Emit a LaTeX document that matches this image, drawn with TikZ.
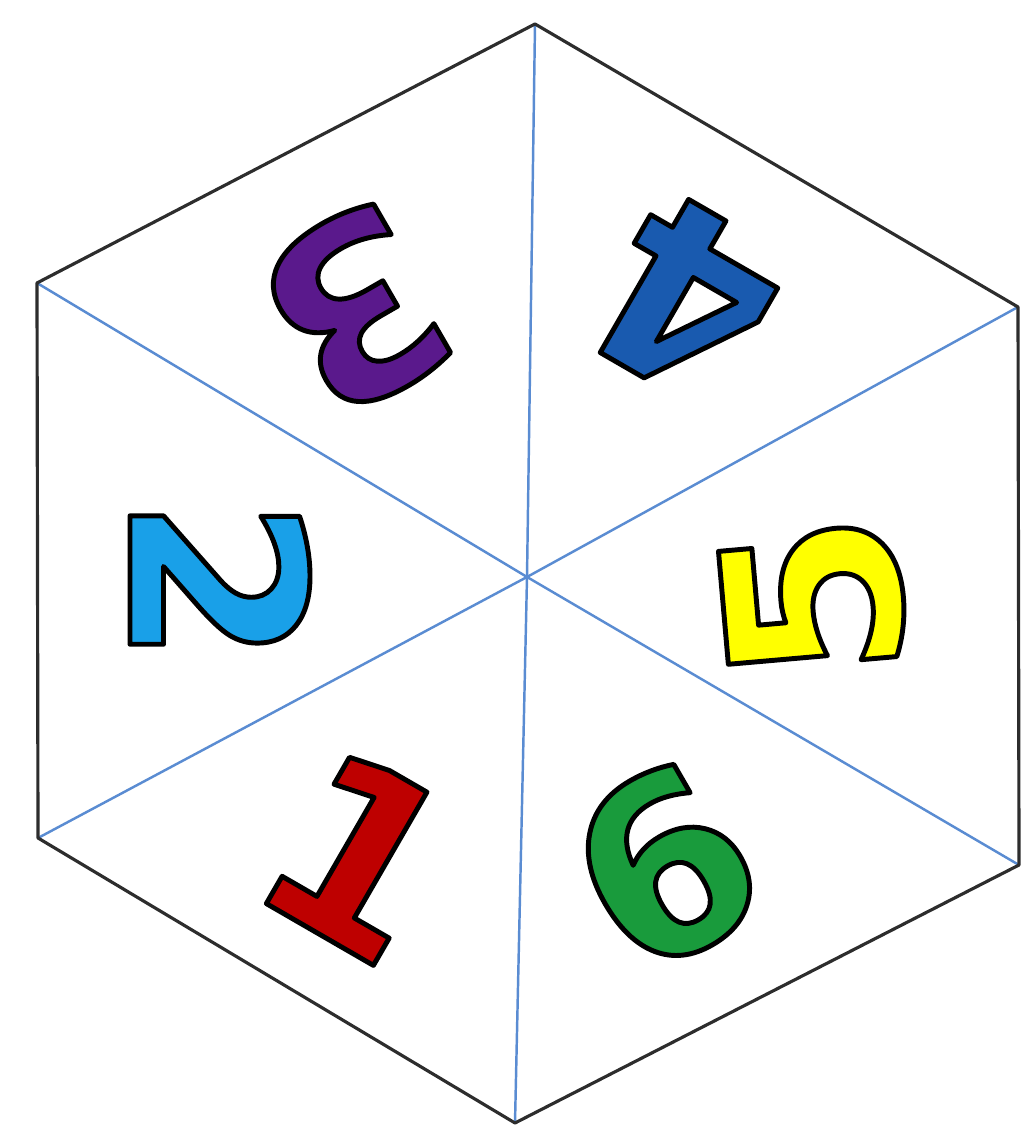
\documentclass[tikz,border=0pt]{standalone}
\usepackage{fontspec}
\newfontfamily\numfont{DejaVu Sans}
\definecolor{spoke}{RGB}{90,140,210}
\definecolor{edge}{RGB}{45,45,45}
\definecolor{cthree}{RGB}{90,25,140}
\definecolor{cfour}{RGB}{25,90,175}
\definecolor{ctwo}{RGB}{25,160,232}
\definecolor{cfive}{RGB}{255,255,0}
\definecolor{cone}{RGB}{190,0,0}
\definecolor{csix}{RGB}{25,155,60}
\newcommand{\outlined}[1]{\special{pdf:literal direct 2 Tr 0 G 1.4 w 1 j}#1\special{pdf:literal direct 0 Tr}}
\tikzset{
    digit/.style={inner sep=0pt, font=\numfont\bfseries\fontsize{69}{69}\selectfont}
}

\begin{document}
\begin{tikzpicture}
    \useasboundingbox (0,0) rectangle (10.34,11.35);
    \coordinate (top) at (5.35,11.11);
    \coordinate (ur) at (10.18,8.28);
    \coordinate (lr) at (10.19,2.70);
    \coordinate (bot) at (5.15,0.12);
    \coordinate (ll) at (0.38,2.97);
    \coordinate (ul) at (0.37,8.52);
    \coordinate (c) at (5.27,5.58);
    \draw[spoke, line width=0.7pt] (c) -- (top);
    \draw[spoke, line width=0.7pt] (c) -- (ur);
    \draw[spoke, line width=0.7pt] (c) -- (lr);
    \draw[spoke, line width=0.7pt] (c) -- (bot);
    \draw[spoke, line width=0.7pt] (c) -- (ll);
    \draw[spoke, line width=0.7pt] (c) -- (ul);
    \draw[edge, line width=0.9pt, line join=round] (top) -- (ur) -- (lr) -- (bot) -- (ll) -- (ul) -- cycle;
    \node[digit, text=cthree, rotate=210] (n3) at (3.56,8.25) {\outlined{3}};
    \node[digit, text=cfour, rotate=150] (n4) at (6.86,8.35) {\outlined{4}};
    \node[digit, text=ctwo, rotate=-90] (n2) at (2.20,5.54) {\outlined{2}};
    \node[digit, text=cfive, rotate=95] (n5) at (8.13,5.37) {\outlined{5}};
    \node[digit, text=cone, rotate=-30] (n1) at (3.59,2.80) {\outlined{1}};
    \node[digit, text=csix, rotate=30] (n6) at (6.64,2.68) {\outlined{6}};
\end{tikzpicture}
\end{document}
